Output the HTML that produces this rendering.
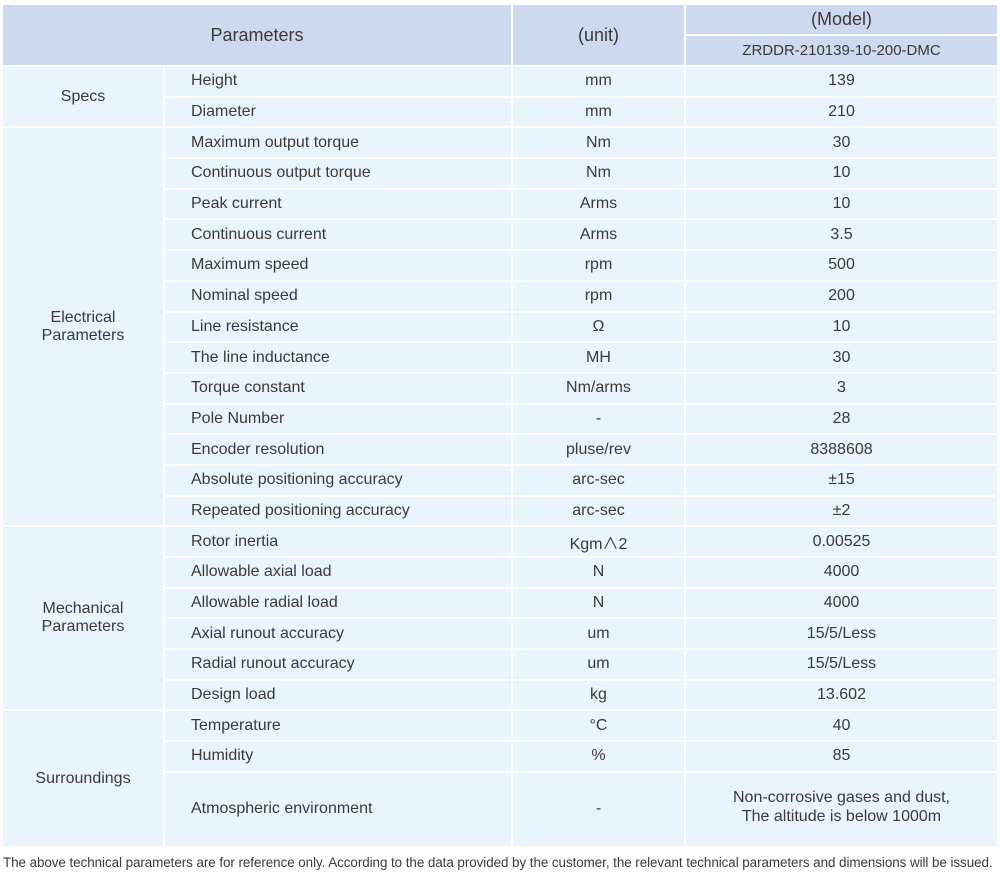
<!DOCTYPE html>
<html><head><meta charset="utf-8"><style>
body{margin:0;background:#fff;width:1000px;height:883px;overflow:hidden;font-family:"Liberation Sans","Noto Sans CJK SC",sans-serif;color:#3a3a3a;}
table{position:absolute;left:1px;top:3px;border-collapse:separate;border-spacing:2px;table-layout:fixed;font-size:16px;}
td{padding:0;text-align:center;vertical-align:middle;background:#e8f5fc;height:28.7px;white-space:nowrap;}
td.p{text-align:left;padding-left:26px;}
th{background:#cdd9ee;font-weight:normal;height:29px;padding:0;font-size:18px;}
th.s{font-size:15px;}
.foot{position:absolute;left:3px;top:855px;font-size:13.4px;white-space:nowrap;color:#3a3a3a;letter-spacing:-0.05px;}
</style></head><body>
<table>
<colgroup><col style="width:160px"><col style="width:346px"><col style="width:171px"><col style="width:311px"></colgroup>
<tr><th colspan="2" rowspan="2">Parameters</th><th rowspan="2">(unit)</th><th>(Model)</th></tr>
<tr><th class="s">ZRDDR-210139-10-200-DMC</th></tr>
<tr><td rowspan="2">Specs</td><td class="p">Height</td><td>mm</td><td>139</td></tr>
<tr><td class="p">Diameter</td><td>mm</td><td>210</td></tr>
<tr><td rowspan="13">Electrical<br>Parameters</td><td class="p">Maximum output torque</td><td>Nm</td><td>30</td></tr>
<tr><td class="p">Continuous output torque</td><td>Nm</td><td>10</td></tr>
<tr><td class="p">Peak current</td><td>Arms</td><td>10</td></tr>
<tr><td class="p">Continuous current</td><td>Arms</td><td>3.5</td></tr>
<tr><td class="p">Maximum speed</td><td>rpm</td><td>500</td></tr>
<tr><td class="p">Nominal speed</td><td>rpm</td><td>200</td></tr>
<tr><td class="p">Line resistance</td><td>Ω</td><td>10</td></tr>
<tr><td class="p">The line inductance</td><td>MH</td><td>30</td></tr>
<tr><td class="p">Torque constant</td><td>Nm/arms</td><td>3</td></tr>
<tr><td class="p">Pole Number</td><td>-</td><td>28</td></tr>
<tr><td class="p">Encoder resolution</td><td>pluse/rev</td><td>8388608</td></tr>
<tr><td class="p">Absolute positioning accuracy</td><td>arc-sec</td><td>±15</td></tr>
<tr><td class="p">Repeated positioning accuracy</td><td>arc-sec</td><td>±2</td></tr>
<tr><td rowspan="6">Mechanical<br>Parameters</td><td class="p">Rotor inertia</td><td>Kgm∧2</td><td>0.00525</td></tr>
<tr><td class="p">Allowable axial load</td><td>N</td><td>4000</td></tr>
<tr><td class="p">Allowable radial load</td><td>N</td><td>4000</td></tr>
<tr><td class="p">Axial runout accuracy</td><td>um</td><td>15/5/Less</td></tr>
<tr><td class="p">Radial runout accuracy</td><td>um</td><td>15/5/Less</td></tr>
<tr><td class="p">Design load</td><td>kg</td><td>13.602</td></tr>
<tr><td rowspan="3">Surroundings</td><td class="p">Temperature</td><td>°C</td><td>40</td></tr>
<tr><td class="p">Humidity</td><td>%</td><td>85</td></tr>
<tr><td class="p" style="height:69px">Atmospheric environment</td><td style="height:69px">-</td><td style="height:69px;line-height:19px;padding-bottom:4px">Non-corrosive gases and dust,<br>The altitude is below 1000m</td></tr>
</table>
<div class="foot">The above technical parameters are for reference only. According to the data provided by the customer, the relevant technical parameters and dimensions will be issued.</div>
</body></html>
